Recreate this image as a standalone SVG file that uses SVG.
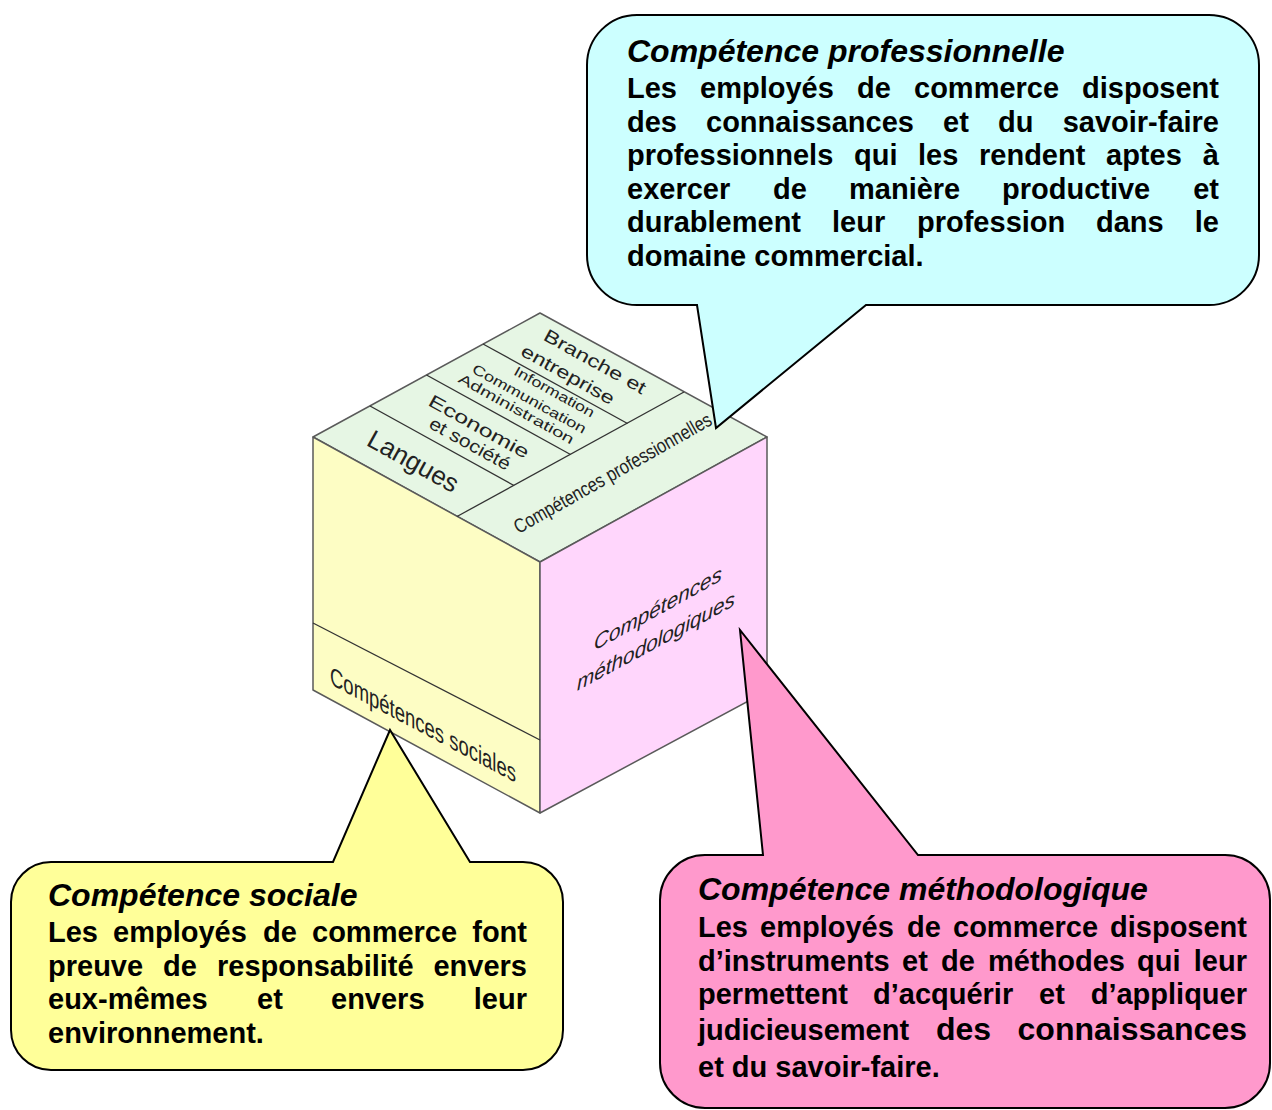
<svg xmlns="http://www.w3.org/2000/svg" width="1272" height="1110" viewBox="0 0 1272 1110">
<style>
.edge{stroke:#5a5a5a;stroke-width:1.5;stroke-linejoin:round}
.div{stroke:#333;stroke-width:1.3;fill:none}
.cube{font-family:"Liberation Sans",Arial,sans-serif;fill:#222}
.call{stroke:#000;stroke-width:2;stroke-linejoin:miter}
.t{font-family:"Liberation Sans",Arial,sans-serif;font-weight:bold;font-style:italic;font-size:32px;fill:#000}
.b{font-family:"Liberation Sans",Arial,sans-serif;font-weight:bold;font-size:29px;fill:#000}
</style>
<rect width="1272" height="1110" fill="#fff"/>
<g id="cube">
  <polygon class="edge" points="540,313 767,437 540,562 313,437" fill="#e6f6e4"/>
  <polygon class="edge" points="313,437 540,562 540,813 313,690" fill="#fdfdc4"/>
  <polygon class="edge" points="540,562 767,437 767,691 540,813" fill="#ffd6fc"/>
  <line class="div" x1="457" y1="516.5" x2="684" y2="392"/>
  <line class="div" x1="370" y1="406" x2="514" y2="485.5"/>
  <line class="div" x1="426.5" y1="375" x2="570.5" y2="454.5"/>
  <line class="div" x1="483" y1="344" x2="627.5" y2="423.5"/>
  <line class="div" x1="313" y1="623" x2="540" y2="740"/>
  <g class="cube" text-anchor="middle">
    <text transform="translate(409,469) rotate(29)" font-size="26" textLength="100" lengthAdjust="spacingAndGlyphs">Langues</text>
    <text transform="translate(476,432) rotate(29)" font-size="18" textLength="112" lengthAdjust="spacingAndGlyphs">Economie</text>
    <text transform="translate(467,449) rotate(29)" font-size="18" textLength="90" lengthAdjust="spacingAndGlyphs">et société</text>
    <text transform="translate(552,396) rotate(29)" font-size="14" textLength="90" lengthAdjust="spacingAndGlyphs">Information</text>
    <text transform="translate(527,403) rotate(29)" font-size="14" textLength="128" lengthAdjust="spacingAndGlyphs">Communication</text>
    <text transform="translate(514,413) rotate(29)" font-size="14" textLength="130" lengthAdjust="spacingAndGlyphs">Administration</text>
    <text transform="translate(592,367) rotate(29)" font-size="18" textLength="114" lengthAdjust="spacingAndGlyphs">Branche et</text>
    <text transform="translate(565,380) rotate(29)" font-size="18" textLength="104" lengthAdjust="spacingAndGlyphs">entreprise</text>
    <text transform="translate(616,479) rotate(-29.5)" font-size="20" textLength="224" lengthAdjust="spacingAndGlyphs">Compétences professionnelles</text>
  </g>
  <g class="cube">
    <text transform="translate(330,684) skewY(28)" font-size="26" textLength="186" lengthAdjust="spacingAndGlyphs">Compétences sociales</text>
    <text transform="translate(594,651) skewY(-29)" font-size="21" font-style="italic" textLength="128" lengthAdjust="spacingAndGlyphs">Compétences</text>
    <text transform="translate(577,691) skewY(-28.5)" font-size="21" font-style="italic" textLength="158" lengthAdjust="spacingAndGlyphs">méthodologiques</text>
  </g>
</g>
<g id="connectors"></g>
<g id="callout-professionnelle">
  <path class="call" fill="#ccffff" d="M637,15 H1209 A50,50 0 0 1 1259,65 V255 A50,50 0 0 1 1209,305 H866 L716,428 L697,305 H637 A50,50 0 0 1 587,255 V65 A50,50 0 0 1 637,15 Z"/>
  <text class="t" x="627" y="62">Compétence professionnelle</text>
  <text class="b" y="98"><tspan x="627">Les</tspan><tspan x="700">employés</tspan><tspan x="857">de</tspan><tspan x="914">commerce</tspan><tspan x="1219" text-anchor="end">disposent</tspan></text>
  <text class="b" y="132"><tspan x="627">des</tspan><tspan x="706">connaissances</tspan><tspan x="943">et</tspan><tspan x="998">du</tspan><tspan x="1219" text-anchor="end">savoir-faire</tspan></text>
  <text class="b" y="165"><tspan x="627">professionnels</tspan><tspan x="854">qui</tspan><tspan x="918">les</tspan><tspan x="979">rendent</tspan><tspan x="1106">aptes</tspan><tspan x="1219" text-anchor="end">à</tspan></text>
  <text class="b" y="199"><tspan x="627">exercer</tspan><tspan x="773">de</tspan><tspan x="849">manière</tspan><tspan x="1002">productive</tspan><tspan x="1219" text-anchor="end">et</tspan></text>
  <text class="b" y="232"><tspan x="627">durablement</tspan><tspan x="832">leur</tspan><tspan x="917">profession</tspan><tspan x="1096">dans</tspan><tspan x="1219" text-anchor="end">le</tspan></text>
  <text class="b" x="627" y="266">domaine commercial.</text>
</g>
<g id="callout-sociale">
  <path class="call" fill="#ffff99" d="M51,862 H333 L390,730 L470,862 H523 A40,40 0 0 1 563,902 V1030 A40,40 0 0 1 523,1070 H51 A40,40 0 0 1 11,1030 V902 A40,40 0 0 1 51,862 Z"/>
  <text class="t" x="48" y="906">Compétence sociale</text>
  <text class="b" y="942"><tspan x="48">Les</tspan><tspan x="113">employés</tspan><tspan x="263">de</tspan><tspan x="312">commerce</tspan><tspan x="527" text-anchor="end">font</tspan></text>
  <text class="b" y="976"><tspan x="48">preuve</tspan><tspan x="163">de</tspan><tspan x="217">responsabilité</tspan><tspan x="527" text-anchor="end">envers</tspan></text>
  <text class="b" y="1009"><tspan x="48">eux-mêmes</tspan><tspan x="257">et</tspan><tspan x="331">envers</tspan><tspan x="527" text-anchor="end">leur</tspan></text>
  <text class="b" x="48" y="1043">environnement.</text>
</g>
<g id="callout-methodologique">
  <path class="call" fill="#ff99cc" d="M705,855 H763 L740,630 L918,855 H1225 A45,45 0 0 1 1270,900 V1063 A45,45 0 0 1 1225,1108 H705 A45,45 0 0 1 660,1063 V900 A45,45 0 0 1 705,855 Z"/>
  <text class="t" x="698" y="900">Compétence méthodologique</text>
  <text class="b" y="937"><tspan x="698">Les</tspan><tspan x="760">employés</tspan><tspan x="907">de</tspan><tspan x="953">commerce</tspan><tspan x="1247" text-anchor="end">disposent</tspan></text>
  <text class="b" y="971"><tspan x="698">d’instruments</tspan><tspan x="902">et</tspan><tspan x="941">de</tspan><tspan x="988">méthodes</tspan><tspan x="1137">qui</tspan><tspan x="1247" text-anchor="end">leur</tspan></text>
  <text class="b" y="1004"><tspan x="698">permettent</tspan><tspan x="873">d’acquérir</tspan><tspan x="1039">et</tspan><tspan x="1247" text-anchor="end">d’appliquer</tspan></text>
  <text class="b" y="1040"><tspan x="698">judicieusement</tspan><tspan x="936" font-size="32">des</tspan><tspan x="1247" font-size="32" text-anchor="end">connaissances</tspan></text>
  <text class="b" x="698" y="1077" font-size="32">et du savoir-faire.</text>
</g>
</svg>
